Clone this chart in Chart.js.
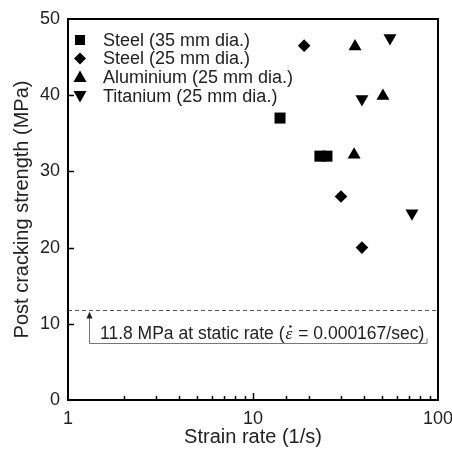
<!DOCTYPE html>
<html><head><meta charset="utf-8">
<script src="https://cdn.jsdelivr.net/npm/chart.js@4/dist/chart.umd.min.js"></script>
<style>html,body{margin:0;padding:0;background:#fff}</style>
</head><body>
<canvas id="c" width="452" height="452" style="display:block;width:452px;height:452px"></canvas>
<script>
const seriesNames = ['Steel (35 mm dia.)', 'Steel (25 mm dia.)', 'Aluminium (25 mm dia.)', 'Titanium (25 mm dia.)'];
const steel35Rate = [14.0, 23.0, 25.1];
const steel35Strength = [37.0, 32.0, 32.0];
const steel25Rate = [18.9, 29.9, 38.8];
const steel25Strength = [46.5, 26.7, 20.0];
const aluRate = [35.6, 50.4, 35.2];
const aluStrength = [46.4, 39.9, 32.2];
const tiRate = [55.0, 38.8, 72.3];
const tiStrength = [47.5, 39.5, 24.5];
const staticStrength = [11.8];
const staticLabel = ['11.8 MPa at static rate (', 'ε', ' = 0.000167/sec)'];
const xTickLabels = [1, 10, 100];
const yTickLabels = [0, 10, 20, 30, 40, 50];
const xTitle = 'Strain rate (1/s)';
const yTitle = 'Post cracking strength (MPa)';

const FONT = "'Liberation Sans', Arial, sans-serif";
const TXT = '#222';

function pts(xs, ys) { return xs.map((v, i) => ({x: v, y: ys[i]})); }

const styles = [
  {pointStyle: 'rect', pointRadius: 7.8, rotation: 0},
  {pointStyle: 'rectRot', pointRadius: 6.3, rotation: 0},
  {pointStyle: 'triangle', pointRadius: 7.5, rotation: 0},
  {pointStyle: 'triangle', pointRadius: 7.5, rotation: 180}
];
const seriesData = [pts(steel35Rate, steel35Strength), pts(steel25Rate, steel25Strength), pts(aluRate, aluStrength), pts(tiRate, tiStrength)];

const datasets = seriesNames.map((n, i) => ({
  label: n,
  data: seriesData[i],
  pointStyle: styles[i].pointStyle,
  pointRadius: styles[i].pointRadius,
  rotation: styles[i].rotation,
  backgroundColor: '#000',
  borderColor: '#000',
  borderWidth: 0
}));

function drawMarker(ctx, kind, cx, cy) {
  ctx.beginPath();
  if (kind === 0) { ctx.rect(cx - 5, cy - 5, 10, 10); }
  else if (kind === 1) { ctx.moveTo(cx, cy - 6); ctx.lineTo(cx + 6, cy); ctx.lineTo(cx, cy + 6); ctx.lineTo(cx - 6, cy); ctx.closePath(); }
  else if (kind === 2) { ctx.moveTo(cx, cy - 6.5); ctx.lineTo(cx + 6.5, cy + 5); ctx.lineTo(cx - 6.5, cy + 5); ctx.closePath(); }
  else { ctx.moveTo(cx, cy + 6.5); ctx.lineTo(cx + 6.5, cy - 5); ctx.lineTo(cx - 6.5, cy - 5); ctx.closePath(); }
  ctx.fillStyle = '#000';
  ctx.fill();
}

const decor = {
  id: 'decor',
  afterDatasetsDraw(chart) {
    const {ctx, chartArea: a, scales: {x, y}} = chart;
    ctx.save();
    // static-rate dashed line
    const ys = Math.round(y.getPixelForValue(staticStrength[0])) + 0.5;
    ctx.strokeStyle = '#555';
    ctx.lineWidth = 1;
    ctx.setLineDash([4, 3]);
    ctx.beginPath(); ctx.moveTo(a.left, ys); ctx.lineTo(a.right, ys); ctx.stroke();
    ctx.setLineDash([]);
    // annotation bracket with arrow
    const ax = a.left + 21.5;
    const by = ys + 33;
    const rx = a.right - 11;
    ctx.strokeStyle = '#777';
    ctx.beginPath();
    ctx.moveTo(ax, ys + 4); ctx.lineTo(ax, by); ctx.lineTo(rx, by); ctx.lineTo(rx, by - 5);
    ctx.stroke();
    ctx.fillStyle = '#222';
    ctx.beginPath(); ctx.moveTo(ax, ys + 1); ctx.lineTo(ax + 3, ys + 8); ctx.lineTo(ax - 3, ys + 8); ctx.closePath(); ctx.fill();
    // annotation text
    ctx.fillStyle = TXT;
    ctx.textBaseline = 'alphabetic';
    ctx.textAlign = 'left';
    const tb = ys + 28;
    let tx = a.left + 32;
    ctx.font = '17.5px ' + FONT;
    ctx.fillText(staticLabel[0], tx, tb);
    tx += ctx.measureText(staticLabel[0]).width + 1;
    ctx.font = "italic 17.5px 'Liberation Serif', serif";
    ctx.fillText(staticLabel[1], tx, tb);
    const ew = ctx.measureText(staticLabel[1]).width;
    ctx.beginPath(); ctx.arc(tx + ew / 2 + 1.5, tb - 12, 1.2, 0, Math.PI * 2); ctx.fill();
    tx += ew + 1;
    ctx.font = '17.5px ' + FONT;
    ctx.fillText(staticLabel[2], tx, tb);

    // legend
    const rows = [a.top + 21, a.top + 39.5, a.top + 58, a.top + 77];
    ctx.font = '18px ' + FONT;
    ctx.textBaseline = 'middle';
    seriesNames.forEach((n, i) => {
      drawMarker(ctx, i, a.left + 12, rows[i]);
      ctx.fillStyle = TXT;
      ctx.fillText(n, a.left + 35, rows[i] + 1);
    });

    // inward ticks
    ctx.strokeStyle = '#000';
    ctx.lineWidth = 1.5;
    y.ticks.forEach(t => {
      if (t.value <= y.min || t.value >= y.max) return;
      const py = Math.round(y.getPixelForValue(t.value)) + 0.5;
      ctx.beginPath(); ctx.moveTo(a.left, py); ctx.lineTo(a.left + 6, py); ctx.stroke();
    });
    x.ticks.forEach(t => {
      if (t.value <= x.min || t.value >= x.max) return;
      const px = Math.round(x.getPixelForValue(t.value)) + 0.5;
      const len = xTickLabels.includes(t.value) ? 7 : 4;
      ctx.beginPath(); ctx.moveTo(px, a.bottom); ctx.lineTo(px, a.bottom - len); ctx.stroke();
    });
    // frame
    ctx.lineWidth = 2;
    ctx.strokeRect(a.left, a.top, a.right - a.left, a.bottom - a.top);

    // axis titles
    ctx.fillStyle = TXT;
    ctx.font = '20px ' + FONT;
    ctx.textAlign = 'center';
    ctx.textBaseline = 'middle';
    ctx.fillText(xTitle, (a.left + a.right) / 2, 437);
    ctx.save();
    ctx.translate(22, (a.top + a.bottom) / 2);
    ctx.rotate(-Math.PI / 2);
    ctx.fillText(yTitle, 0, 0);
    ctx.restore();
    ctx.restore();
  }
};

new Chart(document.getElementById('c'), {
  type: 'scatter',
  data: {datasets},
  options: {
    responsive: false,
    animation: false,
    devicePixelRatio: 1,
    layout: {padding: {top: 19, right: 14, left: 0, bottom: 0}},
    plugins: {legend: {display: false}, tooltip: {enabled: false}},
    scales: {
      x: {
        type: 'logarithmic', min: 1, max: 100,
        grid: {display: false, drawTicks: false},
        border: {display: false},
        ticks: {
          autoSkip: false, maxRotation: 0, padding: 8, color: TXT,
          font: {family: FONT, size: 18},
          callback: (v) => xTickLabels.includes(v) ? String(v) : ''
        },
        afterFit: (s) => { s.height = 52; s.paddingLeft = 0; s.paddingRight = 0; }
      },
      y: {
        min: 0, max: 50,
        grid: {display: false, drawTicks: false},
        border: {display: false},
        afterBuildTicks: (s) => { s.ticks = yTickLabels.map(v => ({value: v})); },
        ticks: {
          padding: 8, color: TXT,
          font: {family: FONT, size: 18},
          callback: (v) => String(v)
        },
        afterFit: (s) => { s.width = 68; s.paddingTop = 0; s.paddingBottom = 0; }
      }
    }
  },
  plugins: [decor]
});
</script>
</body></html>
